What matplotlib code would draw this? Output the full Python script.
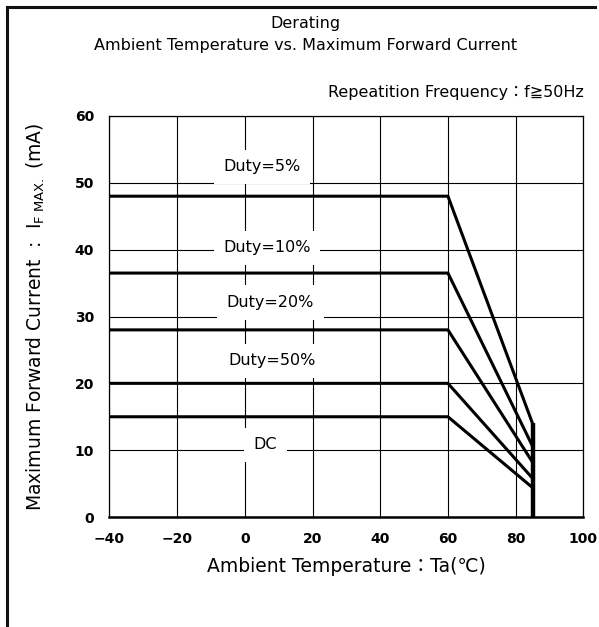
"""Derating curve: ambient temperature vs. maximum forward current."""

import matplotlib
matplotlib.use('Agg')
import matplotlib.pyplot as plt
from matplotlib.lines import Line2D

plt.rcParams['font.family'] = ['DejaVu Sans', 'Noto Sans CJK JP']

# Data
temps = [-40, 60, 85]
duty_names = ['Duty=5%', 'Duty=10%', 'Duty=20%', 'Duty=50%', 'DC']
flat_current = [48, 36.5, 28, 20, 15]
end_current = [14, 10.6, 8.2, 5.8, 4.4]
label_x = [5, 6.5, 7.5, 8, 6]
label_y = [52.4, 40.3, 32.1, 23.4, 10.8]
x_ticks = [-40, -20, 0, 20, 40, 60, 80, 100]
y_ticks = [0, 10, 20, 30, 40, 50, 60]

#####################################################################################

fig = plt.figure(figsize=(5.99, 6.27), dpi=100)
ax = fig.add_axes([0.1828, 0.1754, 0.791, 0.6396])

# Curves
for flat, end in zip(flat_current, end_current):
    ax.plot(temps, [flat, flat, end], color='black', lw=2.2,
            solid_joinstyle='miter', zorder=4)
ax.plot([temps[-1], temps[-1]], [0, end_current[0]], color='black', lw=3.2,
        solid_capstyle='butt', zorder=4)

# Labels on white patches so the grid breaks around them
for name, lx, ly in zip(duty_names, label_x, label_y):
    ax.text(lx, ly, name, ha='center', va='center', fontsize=11.5,
            bbox=dict(boxstyle='square,pad=0.6', fc='white', ec='none'),
            zorder=3)

ax.set_xlim(-40, 100)
ax.set_ylim(0, 60)
ax.set_xticks(x_ticks)
ax.set_yticks(y_ticks)
ax.set_xticklabels([str(t).replace('-', '\u2212') for t in x_ticks],
                   fontweight='bold', fontsize=10)
ax.set_yticklabels([str(t) for t in y_ticks], fontweight='bold', fontsize=10)
ax.tick_params(length=0, pad=11)
ax.grid(True, color='black', lw=0.8, zorder=1)
ax.set_axisbelow(True)
for sp in ax.spines.values():
    sp.set_linewidth(0.9)
ax.spines['bottom'].set_linewidth(1.8)

ax.set_xlabel('Ambient Temperature\uff1aTa(\u2103)', fontsize=13.5, labelpad=8)
ax.set_ylabel(r'Maximum Forward Current  :  I$_{\mathregular{F\ MAX.}}$ (mA)',
              fontsize=13.5, labelpad=20)

# Titles
fig.text(0.51, 0.963, 'Derating', ha='center', va='center', fontsize=11.5)
fig.text(0.51, 0.927, 'Ambient Temperature vs. Maximum Forward Current',
         ha='center', va='center', fontsize=11.5)
fig.text(0.974, 0.852, 'Repeatition Frequency\uff1af\u226750Hz',
         ha='right', va='center', fontsize=11.5)

# Frame lines on left and top edge
fig.add_artist(Line2D([0.012, 0.012], [0.0, 0.989], color='#111111', lw=2.2))
fig.add_artist(Line2D([0.012, 0.993], [0.989, 0.989], color='#111111', lw=2.2))

fig.savefig('out.png', dpi=100)
